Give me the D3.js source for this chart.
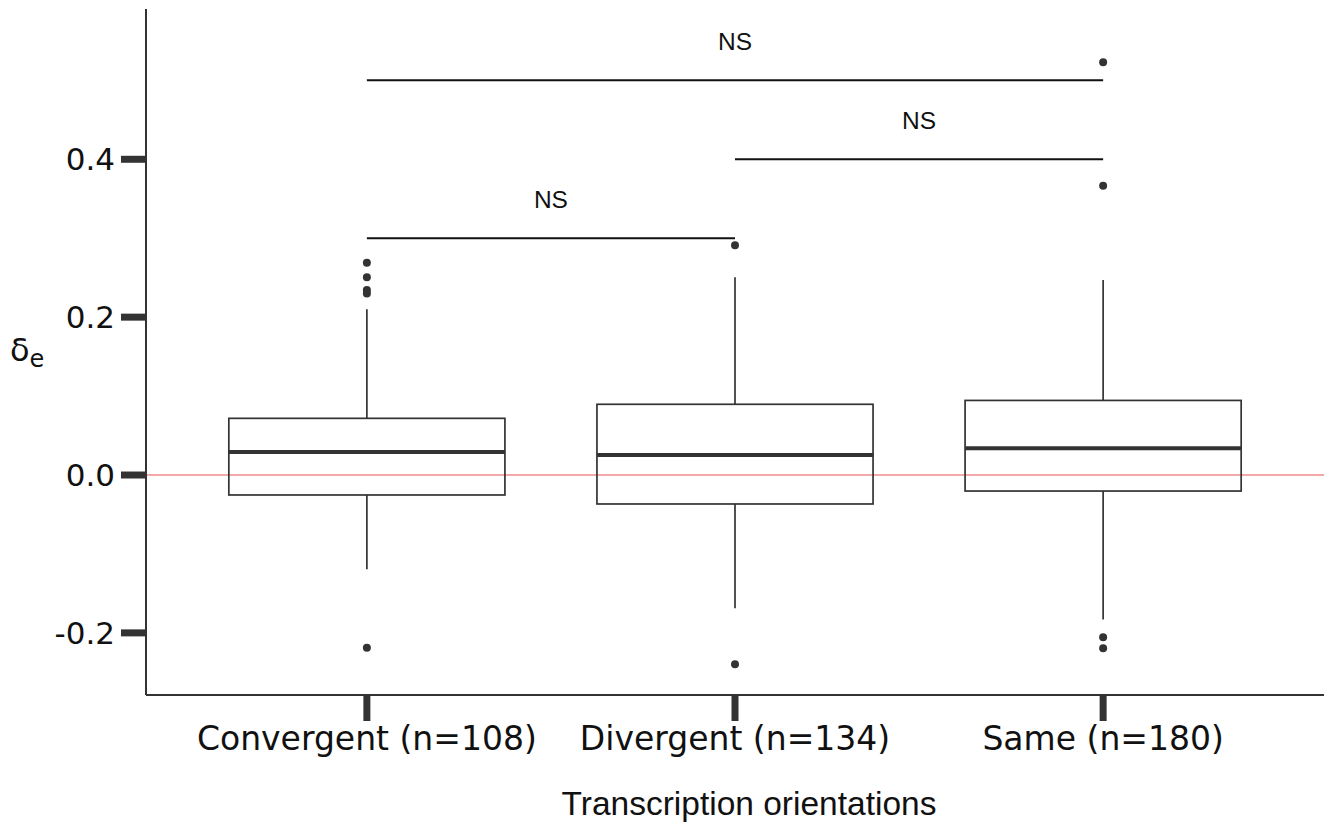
<!DOCTYPE html>
<html>
<head>
<meta charset="utf-8">
<script src="https://cdn.jsdelivr.net/npm/d3@7"></script>
<style>
  html, body { margin: 0; padding: 0; background: #fff; }
  svg { display: block; }
</style>
</head>
<body>
<svg id="chart" width="1331" height="827"></svg>
<script>
// Box plot summaries per transcription orientation
const categories = ["Convergent (n=108)", "Divergent (n=134)", "Same (n=180)"];
const q1 = [-0.0253, -0.0367, -0.0203];
const medians = [0.0291, 0.0253, 0.034];
const q3 = [0.0718, 0.0896, 0.0945];
const whiskerLow = [-0.1195, -0.1689, -0.1832];
const whiskerHigh = [0.210, 0.2505, 0.247];
const outliers = [
  [0.269, 0.2505, 0.2344, 0.2300, -0.2188],
  [0.291, -0.2399],
  [0.5228, 0.3666, -0.2054, -0.2194]
];

// Pairwise comparisons: group indices, bracket height, label
const compPairs = [[0, 1], [1, 2], [0, 2]];
const compLevels = [0.3, 0.4, 0.5];
const compLabels = ["NS", "NS", "NS"];

const yTicks = [-0.2, 0.0, 0.2, 0.4];

const svg = d3.select("#chart");
const plotLeft = 146, plotRight = 1324, plotTop = 9, plotBottom = 695;

const x = d3.scalePoint().domain(categories).range([plotLeft, plotRight]).padding(0.6);
const y = d3.scaleLinear().domain([-0.2787, 0.5904]).range([plotBottom, plotTop]);
const boxW = x.step() * 0.75;

const ink = "#333333";
// tick labels use a plain hyphen for negatives
const fmt = d => d3.format(".1f")(d).replace("\u2212", "-");

// Reference line at zero
svg.append("line")
  .attr("x1", plotLeft).attr("x2", plotRight)
  .attr("y1", y(0)).attr("y2", y(0))
  .attr("stroke", "#f08c8c").attr("stroke-width", 1.5);

// Boxes
const g = svg.append("g");
categories.forEach((c, i) => {
  const cx = x(c);
  // whiskers
  g.append("line").attr("x1", cx).attr("x2", cx)
    .attr("y1", y(q3[i])).attr("y2", y(whiskerHigh[i]))
    .attr("stroke", ink).attr("stroke-width", 1.7);
  g.append("line").attr("x1", cx).attr("x2", cx)
    .attr("y1", y(q1[i])).attr("y2", y(whiskerLow[i]))
    .attr("stroke", ink).attr("stroke-width", 1.7);
  // box
  g.append("rect")
    .attr("x", cx - boxW / 2).attr("width", boxW)
    .attr("y", y(q3[i])).attr("height", y(q1[i]) - y(q3[i]))
    .attr("fill", "none").attr("stroke", ink).attr("stroke-width", 1.7);
  // median
  g.append("line")
    .attr("x1", cx - boxW / 2).attr("x2", cx + boxW / 2)
    .attr("y1", y(medians[i])).attr("y2", y(medians[i]))
    .attr("stroke", ink).attr("stroke-width", 4);
  // outliers
  g.selectAll(null).data(outliers[i]).enter().append("circle")
    .attr("cx", cx).attr("cy", d => y(d)).attr("r", 4)
    .attr("fill", ink);
});

// Significance brackets
compPairs.forEach((p, k) => {
  const x1 = x(categories[p[0]]), x2 = x(categories[p[1]]);
  const yy = y(compLevels[k]);
  svg.append("line").attr("x1", x1).attr("x2", x2)
    .attr("y1", yy).attr("y2", yy)
    .attr("stroke", "#111").attr("stroke-width", 2);
  svg.append("text")
    .attr("x", (x1 + x2) / 2).attr("y", yy - 30)
    .attr("text-anchor", "middle")
    .attr("font-family", "Liberation Sans, Arial, sans-serif")
    .attr("font-size", 24.5).attr("fill", "#111")
    .text(compLabels[k]);
});

// Y axis
const yAxis = svg.append("g");
yAxis.append("line").attr("x1", plotLeft).attr("x2", plotLeft)
  .attr("y1", plotTop).attr("y2", plotBottom)
  .attr("stroke", ink).attr("stroke-width", 2);
yTicks.forEach(t => {
  yAxis.append("line").attr("x1", plotLeft - 25).attr("x2", plotLeft)
    .attr("y1", y(t)).attr("y2", y(t))
    .attr("stroke", ink).attr("stroke-width", 7);
  yAxis.append("text")
    .attr("x", plotLeft - 31).attr("y", y(t)).attr("dy", "0.36em")
    .attr("text-anchor", "end")
    .attr("font-family", "DejaVu Sans, sans-serif")
    .attr("font-size", 31).attr("fill", "#111")
    .text(fmt(t));
});

// X axis
const xAxis = svg.append("g");
xAxis.append("line").attr("x1", plotLeft).attr("x2", plotRight)
  .attr("y1", plotBottom).attr("y2", plotBottom)
  .attr("stroke", ink).attr("stroke-width", 2);
categories.forEach(c => {
  xAxis.append("line").attr("x1", x(c)).attr("x2", x(c))
    .attr("y1", plotBottom).attr("y2", plotBottom + 26)
    .attr("stroke", ink).attr("stroke-width", 7);
  xAxis.append("text")
    .attr("x", x(c)).attr("y", 750)
    .attr("text-anchor", "middle")
    .attr("font-family", "DejaVu Sans, sans-serif")
    .attr("font-size", 33).attr("fill", "#111")
    .text(c);
});

// Axis titles
svg.append("text")
  .attr("x", (plotLeft + plotRight) / 2 + 14).attr("y", 815)
  .attr("text-anchor", "middle")
  .attr("font-family", "Liberation Sans, Arial, sans-serif")
  .attr("font-size", 33.5).attr("fill", "#111")
  .text("Transcription orientations");

const yt = svg.append("text")
  .attr("x", 10).attr("y", 361)
  .attr("font-family", "DejaVu Sans, sans-serif")
  .attr("font-size", 32).attr("fill", "#111");
yt.append("tspan").text("δ");
yt.append("tspan").attr("dy", 6).attr("font-size", 24).text("e");
</script>
</body>
</html>
